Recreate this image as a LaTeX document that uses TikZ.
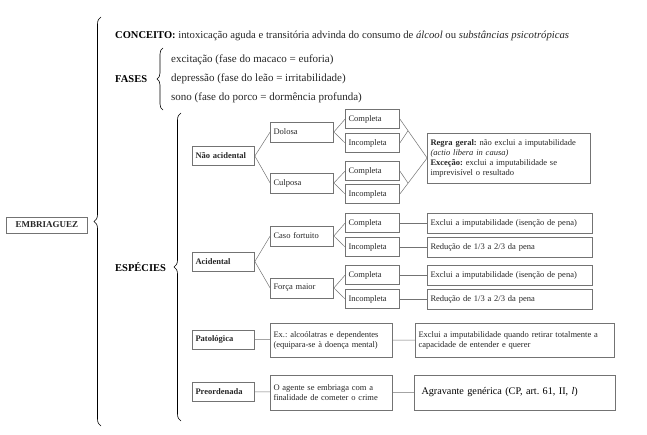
\documentclass[tikz,border=0pt]{standalone}
\usepackage{fontspec}
\setmainfont{Liberation Serif}
\usetikzlibrary{decorations.pathreplacing,calc}
\frenchspacing
\begin{document}
\begin{tikzpicture}[x=1pt,y=-1pt,
	bx/.style={draw=black!55,line width=0.7pt,text=black!85,font=\fontsize{8.5}{10}\selectfont,inner xsep=3pt,inner ysep=2pt,text width=#1,align=left},
	ln/.style={draw=black!55,line width=0.5pt},
	br/.style={decorate,decoration={brace,amplitude=#1},line width=0.6pt},
	hd/.style={anchor=west,font=\fontsize{10.5}{12}\selectfont\bfseries,inner sep=0pt},
	tx/.style={anchor=west,font=\fontsize{11}{12}\selectfont,text=black!85,inner sep=0pt}]
	\useasboundingbox (0,0) rectangle (647,434) ;
	\node[bx=75,align=center,minimum height=16,font=\fontsize{9}{10}\selectfont\bfseries] (emb) at (47,225) {EMBRIAGUEZ} ;
	\draw[br=7pt] (101,426) -- (101,17) ;
	\node[tx,font=\fontsize{10.7}{12}\selectfont] (conc) at (115,36) {{\fontsize{10.5}{12}\selectfont\bfseries\color{black}CONCEITO:} intoxicação aguda e transitória advinda do consumo de \textit{álcool} ou \textit{substâncias psicotrópicas}} ;
	\node[hd] (fases) at (115,79) {FASES} ;
	\draw[br=6pt] (163,110) -- (163,48) ;
	\node[tx] (f1) at (171,60) {excitação (fase do macaco = euforia)} ;
	\node[tx] (f2) at (171,79) {depressão (fase do leão = irritabilidade)} ;
	\node[tx] (f3) at (171,98) {sono (fase do porco = dormência profunda)} ;
	\node[hd] (esp) at (115,267) {ESPÉCIES} ;
	\draw[br=7pt] (181,421) -- (181,113) ;
	% especies
	\foreach \n/\t/\y in {nac/Não acidental/156,aci/Acidental/261.5,pat/Patológica/339.5,pre/Preordenada/391.5}
		\node[bx=56,minimum height=19,font=\fontsize{8.5}{10}\selectfont\bfseries] (\n) at (223.5,\y) {\t} ;
	\foreach \n/\t/\y in {dol/Dolosa/132,cul/Culposa/183,caso/Caso fortuito/236,forca/Força maior/288}
		\node[bx=57,minimum height=20] (\n) at (302,\y) {\t} ;
	\foreach \n/\t/\y in {c1/Completa/119,i1/Incompleta/143,c2/Completa/171,i2/Incompleta/194,c3/Completa/223,i3/Incompleta/247,c4/Completa/275,i4/Incompleta/299}
		\node[bx=48,minimum height=19] (\n) at (372.5,\y) {\t} ;
	\node[bx=157,minimum height=50] (regra) at (509,158) {\textbf{Regra geral:} não exclui a imputabilidade\\ \textit{(actio libera in causa)}\\ \textbf{Exceção:} exclui a imputabilidade se\\ imprevisível o resultado} ;
	\node[bx=159,minimum height=20] (exc3) at (510,223) {Exclui a imputabilidade (isenção de pena)} ;
	\node[bx=159,minimum height=20] (red3) at (510,247) {Redução de 1/3 a 2/3 da pena} ;
	\node[bx=159,minimum height=20] (exc4) at (510,275) {Exclui a imputabilidade (isenção de pena)} ;
	\node[bx=159,minimum height=20] (red4) at (510,299) {Redução de 1/3 a 2/3 da pena} ;
	\node[bx=116,minimum height=34] (expat) at (331.5,340) {Ex.: alcoólatras e dependentes\\ (equipara-se à doença mental)} ;
	\node[bx=116,minimum height=35] (agente) at (331.5,392.5) {O agente se embriaga com a\\ finalidade de cometer o crime} ;
	\node[bx=193,minimum height=34] (excq) at (515,340) {Exclui a imputabilidade quando retirar totalmente a\\ capacidade de entender e querer} ;
	\node[bx=187,minimum height=35,inner xsep=7pt,text=black,font=\fontsize{10.2}{11}\selectfont] (agrav) at (515,392.5) {Agravante genérica (CP, art. 61, II, \textit{l})} ;
	% ligacoes
	\draw[ln] (dol.west) -- (nac.east) -- (cul.west) (caso.west) -- (aci.east) -- (forca.west) ;
	\draw[ln] (c1.west) -- (dol.east) -- (i1.west) (c2.west) -- (cul.east) -- (i2.west) ;
	\draw[ln] (c3.west) -- (caso.east) -- (i3.west) (c4.west) -- (forca.east) -- (i4.west) ;
	\coordinate (j1) at ($(c1.east)!0.3!(regra.west)$) ;
	\coordinate (j2) at ($(i2.east)!0.3!(regra.west)$) ;
	\draw[ln] (c1.east) -- (regra.west) -- (i2.east) (i1.east) -- (j1) (c2.east) -- (j2) ;
	\draw[ln] (c3) -- (exc3) (i3) -- (red3) (c4) -- (exc4) (i4) -- (red4) ;
	\draw[ln] (pat) -- (expat) -- (excq) (pre) -- (agente) -- (agrav) ;
\end{tikzpicture}
\end{document}
